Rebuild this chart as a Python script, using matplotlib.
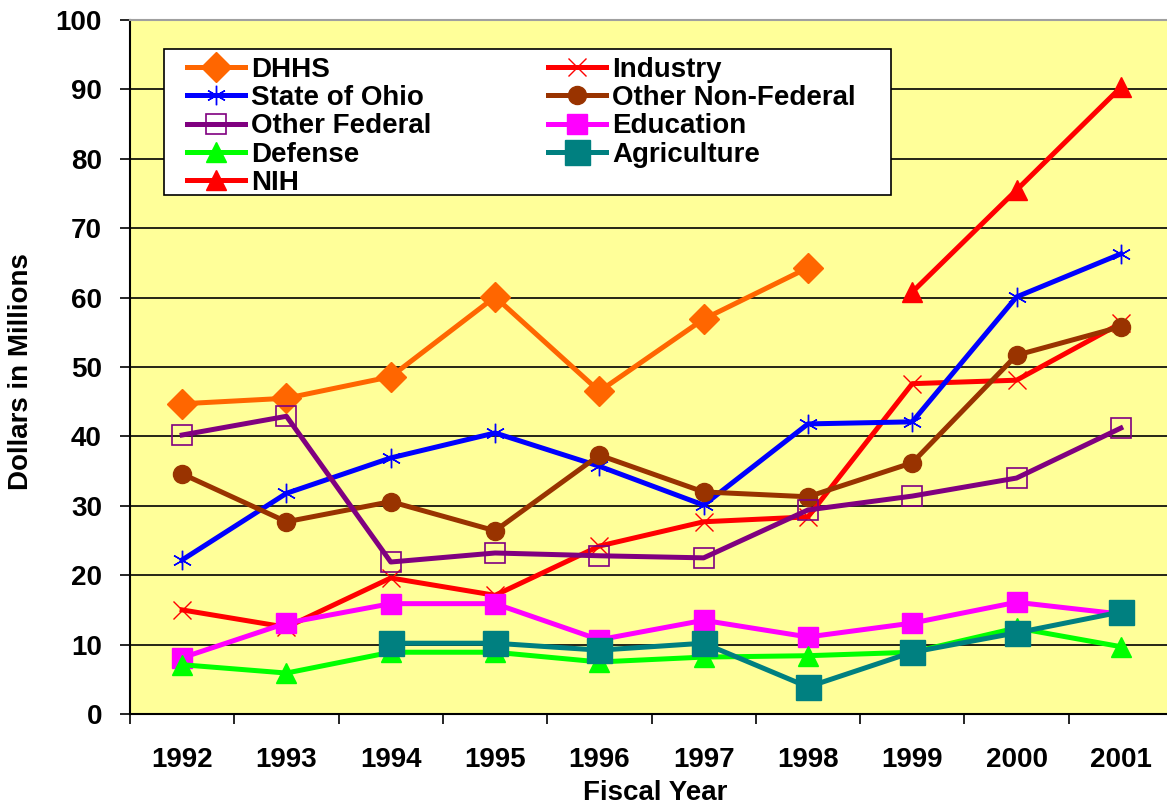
import numpy as np
import matplotlib
matplotlib.use("Agg")
import matplotlib.pyplot as plt
from matplotlib.patches import Rectangle
from matplotlib.ticker import FixedLocator, NullFormatter

plt.rcParams['font.family'] = ['Liberation Sans', 'DejaVu Sans']
plt.rcParams['font.weight'] = 'bold'

nan = np.nan
years = ['1992', '1993', '1994', '1995', '1996', '1997', '1998', '1999', '2000', '2001']

# values (millions of dollars)
dhhs = [44.7, 45.5, 48.6, 60.1, 46.5, 56.9, 64.3, nan, nan, nan]
industry = [15.0, 12.5, 19.6, 17.1, 24.2, 27.7, 28.4, 47.6, 48.1, 56.3]
ohio = [22.2, 31.8, 36.9, 40.5, 35.7, 30.1, 41.8, 42.1, 60.1, 66.3]
other_nonfed = [34.6, 27.7, 30.6, 26.4, 37.3, 32.0, 31.3, 36.2, 51.7, 55.8]
other_fed = [40.2, 42.9, 21.9, 23.2, 22.8, 22.5, 29.4, 31.4, 34.0, 41.2]
education = [8.1, 13.1, 15.9, 15.9, 10.7, 13.5, 11.1, 13.1, 16.1, 14.4]
defense = [7.1, 5.9, 8.9, 8.9, 7.5, 8.2, 8.4, 8.9, 12.4, 9.7]
agriculture = [nan, nan, 10.2, 10.2, 9.2, 10.2, 3.9, 8.9, 11.7, 14.7]
nih = [nan, nan, nan, nan, nan, nan, nan, 60.8, 75.5, 90.3]

W, H = 1167, 806
fig = plt.figure(figsize=(W / 100, H / 100), dpi=100)
fig.patch.set_facecolor('white')
# plot area: left edge at x=130px, categories 104.3px wide (runs past the right edge)
ax = fig.add_axes([130 / W, 92 / H, 1043 / W, 694 / H])
ax.set_facecolor('#FFFF99')

x = np.arange(len(years))

# name, data, color, marker, size, face, edge width
series = [
    ('DHHS', dhhs, '#FF6600', 'D', 15, None, 1),
    ('Industry', industry, '#FF0000', 'x', 13, None, 1.0),
    ('State of Ohio', ohio, '#0000FF', (6, 2, 0), 14, None, 1.0),
    ('Other Non-Federal', other_nonfed, '#993300', 'o', 13, None, 1),
    ('Other Federal', other_fed, '#800080', 's', 14, 'none', 1.2),
    ('Education', education, '#FF00FF', 's', 15, None, 1),
    ('Defense', defense, '#00FF00', '^', 15, None, 1),
    ('Agriculture', agriculture, '#008080', 's', 18, None, 1),
    ('NIH', nih, '#FF0000', '^', 15, None, 1),
]

handles = {}
for i, (name, vals, col, mk, ms, fc, mew) in enumerate(series):
    ln, = ax.plot(x, vals, color=col, lw=3.6, marker=mk, markersize=ms,
                  markerfacecolor=col if fc is None else fc,
                  markeredgecolor=col, markeredgewidth=mew,
                  label=name, zorder=3 + i * 0.1, clip_on=False)
    handles[name] = ln

ax.set_xlim(-0.5, 9.5)
ax.set_ylim(0, 100)
ax.set_yticks(np.arange(0, 101, 10))
ax.yaxis.grid(True, color='black', lw=1.2)
ax.set_axisbelow(True)

# category ticks on boundaries, labels centred
ax.xaxis.set_major_locator(FixedLocator(np.arange(-0.5, 10, 1)))
ax.xaxis.set_major_formatter(NullFormatter())
ax.xaxis.set_minor_locator(FixedLocator(x))
ax.set_xticklabels(years, minor=True)
ax.tick_params(axis='x', which='major', direction='out', length=7.2, width=1.2)
ax.tick_params(axis='x', which='minor', length=0, pad=24, labelsize=20)
ax.tick_params(axis='y', direction='out', length=7.2, width=1.2, pad=13, labelsize=20)

for s in ['left', 'bottom']:
    ax.spines[s].set_color('black')
    ax.spines[s].set_linewidth(1.5)
ax.spines['top'].set_color('#A0A0A0')
ax.spines['top'].set_linewidth(1.5)
ax.spines['right'].set_visible(False)

# legend frame
ax.add_patch(Rectangle((34 / 1043, 1 - 175 / 694), 727 / 1043, 146 / 694,
                       transform=ax.transAxes, facecolor='white', edgecolor='black',
                       lw=1.2, zorder=5))
order = ['DHHS', 'State of Ohio', 'Other Federal', 'Defense', 'NIH',
         'Industry', 'Other Non-Federal', 'Education', 'Agriculture']
leg = ax.legend([handles[n] for n in order], order, ncol=2, frameon=False,
                loc='upper left', bbox_to_anchor=(57 / 1043, 1 - 37 / 694),
                borderpad=0, borderaxespad=0, handlelength=2.1, handletextpad=0.2,
                columnspacing=4.2, labelspacing=0.08, fontsize=20, numpoints=1)
leg.set_zorder(6)

fig.text(21 / W, (H - 372) / H, 'Dollars in Millions', rotation=90, ha='center',
         va='center', fontsize=20, fontweight='bold')
fig.text(655 / W, 6 / H, 'Fiscal Year', ha='center', va='baseline',
         fontsize=20, fontweight='bold')

fig.savefig('out.png', dpi=100)
